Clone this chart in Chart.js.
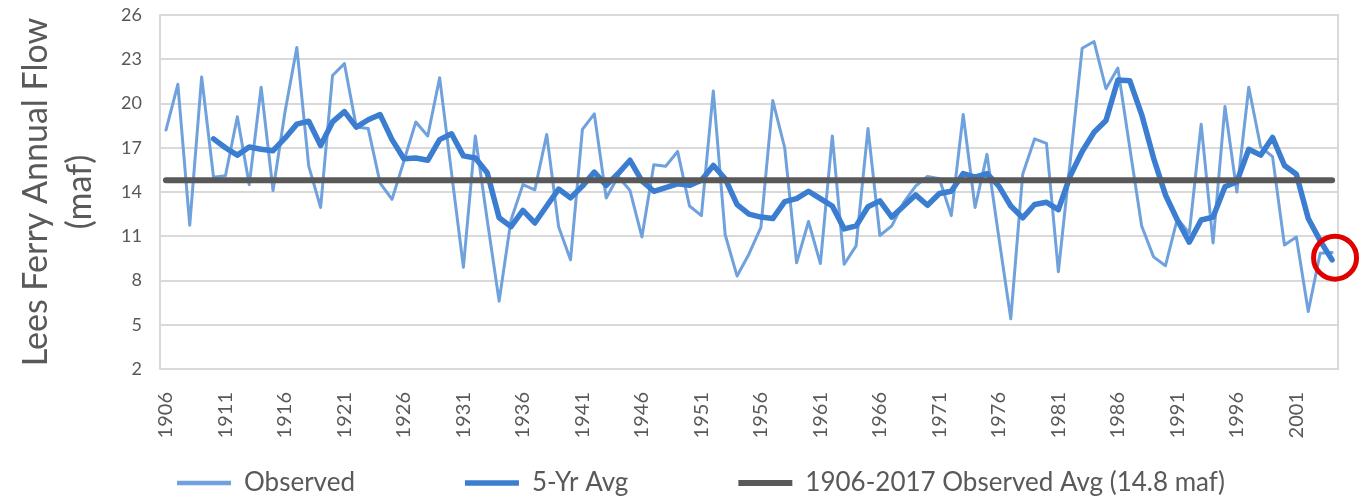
<!DOCTYPE html>
<html>
<head>
<meta charset="utf-8">
<script src="https://cdn.jsdelivr.net/npm/chart.js@4.4.1/dist/chart.umd.min.js"></script>
<style>
  html, body { margin: 0; padding: 0; background: #ffffff; }
  #wrap { width: 1372px; height: 497px; position: relative; }
</style>
</head>
<body>
<div id="wrap"><canvas id="flowChart"></canvas></div>
<script>
// years on the category axis (one point per water year)
const years = [
  '1906','1907','1908','1909','1910','1911','1912','1913','1914','1915',
  '1916','1917','1918','1919','1920','1921','1922','1923','1924','1925',
  '1926','1927','1928','1929','1930','1931','1932','1933','1934','1935',
  '1936','1937','1938','1939','1940','1941','1942','1943','1944','1945',
  '1946','1947','1948','1949','1950','1951','1952','1953','1954','1955',
  '1956','1957','1958','1959','1960','1961','1962','1963','1964','1965',
  '1966','1967','1968','1969','1970','1971','1972','1973','1974','1975',
  '1976','1977','1978','1979','1980','1981','1982','1983','1984','1985',
  '1986','1987','1988','1989','1990','1991','1992','1993','1994','1995',
  '1996','1997','1998','1999','2000','2001','2002','2003','2004'
];

// observed annual flow (maf)
const observed = [
  18.2, 21.3, 11.75, 21.8, 15.0, 15.1, 19.1, 14.5, 21.1, 14.1,
  19.4, 23.8, 15.75, 12.95, 21.9, 22.7, 18.4, 18.3, 14.6, 13.5,
  16.1, 18.75, 17.8, 21.75, 15.3, 8.9, 17.8, 12.1, 6.6, 12.1,
  14.5, 14.15, 17.9, 11.65, 9.4, 18.25, 19.3, 13.6, 15.05, 14.1,
  10.95, 15.85, 15.75, 16.75, 13.05, 12.4, 20.85, 11.1, 8.3, 9.8,
  11.6, 20.2, 17.0, 9.2, 12.0, 9.15, 17.8, 9.1, 10.35, 18.3,
  11.05, 11.7, 13.3, 14.4, 15.05, 14.9, 12.4, 19.25, 12.95, 16.55,
  10.9, 5.4, 15.2, 17.6, 17.3, 8.6, 16.1, 23.75, 24.2, 21.0,
  22.4, 17.0, 11.7, 9.6, 9.0, 12.2, 11.2, 18.6, 10.55, 19.8,
  14.0, 21.1, 17.05, 16.4, 10.4, 10.95, 5.9, 9.85, 9.9
];

// 5-year average (maf); starts in 1910
const fiveYrAvg = [
  null, null, null, null, 17.6, 17.0, 16.5, 17.05, 16.9, 16.8,
  17.65, 18.6, 18.8, 17.15, 18.75, 19.45, 18.4, 18.9, 19.25, 17.55,
  16.25, 16.3, 16.15, 17.55, 17.95, 16.45, 16.3, 15.3, 12.25, 11.65,
  12.75, 11.9, 13.05, 14.2, 13.6, 14.4, 15.35, 14.45, 15.25, 16.15,
  14.75, 14.05, 14.3, 14.55, 14.45, 14.8, 15.8, 14.9, 13.15, 12.5,
  12.3, 12.2, 13.35, 13.55, 14.05, 13.55, 13.05, 11.5, 11.7, 13.0,
  13.4, 12.3, 13.05, 13.8, 13.1, 13.9, 14.05, 15.25, 15.0, 15.25,
  14.4, 13.05, 12.25, 13.15, 13.3, 12.8, 15.1, 16.75, 18.05, 18.85,
  21.6, 21.55, 19.25, 16.3, 13.8, 12.1, 10.6, 12.1, 12.3, 14.35,
  14.7, 16.9, 16.5, 17.7, 15.8, 15.2, 12.2, 10.7, 9.4
];

const observedAvg = 14.8;           // 1906-2017 observed average
const highlightYear = '2004';       // red circle on the last 5-yr value
const highlightValue = 9.55;

const yMin = 2, yMax = 26, yStep = 3;

const grey = '#595959';
const uiFont = 'Lato, "Open Sans", sans-serif';

// light frame around the plot area, like the spreadsheet original
const plotFrame = {
  id: 'plotFrame',
  beforeDatasetsDraw(chart) {
    const a = chart.chartArea;
    const ctx = chart.ctx;
    ctx.save();
    ctx.strokeStyle = '#d9d9d9';
    ctx.lineWidth = 2;
    ctx.strokeRect(a.left, a.top, a.right - a.left, a.bottom - a.top);
    ctx.restore();
  }
};

// red ring around the latest 5-yr value, placed through the chart scales
// (a point dataset this big would make Chart.js pad the whole chart area)
const highlightRing = {
  id: 'highlightRing',
  afterDatasetsDraw(chart) {
    const xs = chart.scales.x;
    const ys = chart.scales.y;
    const cx = xs.getPixelForValue(years.indexOf(highlightYear));
    const cy = ys.getPixelForValue(highlightValue);
    const ctx = chart.ctx;
    ctx.save();
    ctx.beginPath();
    ctx.arc(cx + 3, cy, 21.5, 0, Math.PI * 2);
    ctx.strokeStyle = '#e00000';
    ctx.lineWidth = 5;
    ctx.stroke();
    ctx.restore();
  }
};

// the legend needs wide gaps between items; keep its box short and
// pull its top up by the padding (bottom stays so the clip still covers the text)
const legendGap = 110;
const legendShift = {
  id: 'legendShift',
  afterLayout(chart) {
    if (chart.legend) {
      chart.legend.top -= legendGap - 4;
      chart.legend.left += 32;
      chart.legend.right += 32;
    }
  }
};

const ctx = document.getElementById('flowChart').getContext('2d');
const flowChart = new Chart(ctx, {
  type: 'line',
  data: {
    labels: years,
    datasets: [
      {
        label: 'Observed',
        data: observed,
        borderColor: '#6fa1dd',
        backgroundColor: '#6fa1dd',
        borderWidth: 3,
        borderCapStyle: 'round',
        borderJoinStyle: 'round',
        pointRadius: 0,
        tension: 0,
        order: 3
      },
      {
        label: '5-Yr Avg',
        data: fiveYrAvg,
        borderColor: '#3b7dd0',
        backgroundColor: '#3b7dd0',
        borderWidth: 5.5,
        borderCapStyle: 'round',
        borderJoinStyle: 'round',
        pointRadius: 0,
        tension: 0,
        order: 2
      },
      {
        label: '1906-2017 Observed Avg (14.8 maf)',
        data: [
          { x: years[0], y: observedAvg },
          { x: years[years.length - 1], y: observedAvg }
        ],
        borderColor: grey,
        backgroundColor: grey,
        borderWidth: 6,
        borderCapStyle: 'round',
        pointRadius: 0,
        order: 1
      }
    ]
  },
  options: {
    responsive: true,
    maintainAspectRatio: false,
    animation: false,
    layout: { padding: { top: 15, right: 34, bottom: 0, left: 0 } },
    plugins: {
      tooltip: { enabled: false },
      legend: {
        position: 'bottom',
        maxHeight: 31,
        labels: {
          padding: legendGap,
          usePointStyle: true,
          pointStyle: 'line',
          pointStyleWidth: 54,
          boxHeight: 6,
          color: grey,
          font: { family: uiFont, size: 26 },
          sort: (a, b) => a.datasetIndex - b.datasetIndex,
          generateLabels(chart) {
            const items = Chart.defaults.plugins.legend.labels.generateLabels(chart);
            items.forEach(item => { item.lineWidth = Math.max(item.lineWidth, 4.5); });
            return items;
          }
        }
      }
    },
    scales: {
      x: {
        offset: true,
        // transparent grid + tick marks: the tick length sets the label gap
        grid: { display: true, color: 'rgba(0,0,0,0)', drawTicks: true, tickLength: 20, tickColor: 'rgba(0,0,0,0)' },
        border: { display: false },
        ticks: {
          autoSkip: false,
          maxRotation: 90,
          minRotation: 90,
          padding: 3,
          color: grey,
          font: { family: uiFont, size: 20 },
          callback: function (value, index) {
            return index % 5 === 0 ? this.getLabelForValue(value) : '';
          }
        },
        afterFit(scale) { scale.height = 97; }
      },
      y: {
        min: yMin,
        max: yMax,
        // invisible tick marks give the label gap without padding the plot top
        grid: { color: '#d9d9d9', lineWidth: 2, drawTicks: true, tickLength: 15, tickColor: 'rgba(0,0,0,0)' },
        border: { display: true, color: '#d9d9d9', width: 2 },
        ticks: {
          stepSize: yStep,
          padding: 3,
          color: grey,
          font: { family: uiFont, size: 18 }
        },
        title: {
          display: true,
          text: ['Lees Ferry Annual Flow', '(maf)'],
          color: grey,
          font: { family: uiFont, size: 34, lineHeight: 1.3 },
          padding: { top: 14, bottom: 0 }
        },
        afterFit(scale) { scale.width = 160; }
      }
    }
  },
  plugins: [plotFrame, highlightRing, legendShift]
});
</script>
</body>
</html>
